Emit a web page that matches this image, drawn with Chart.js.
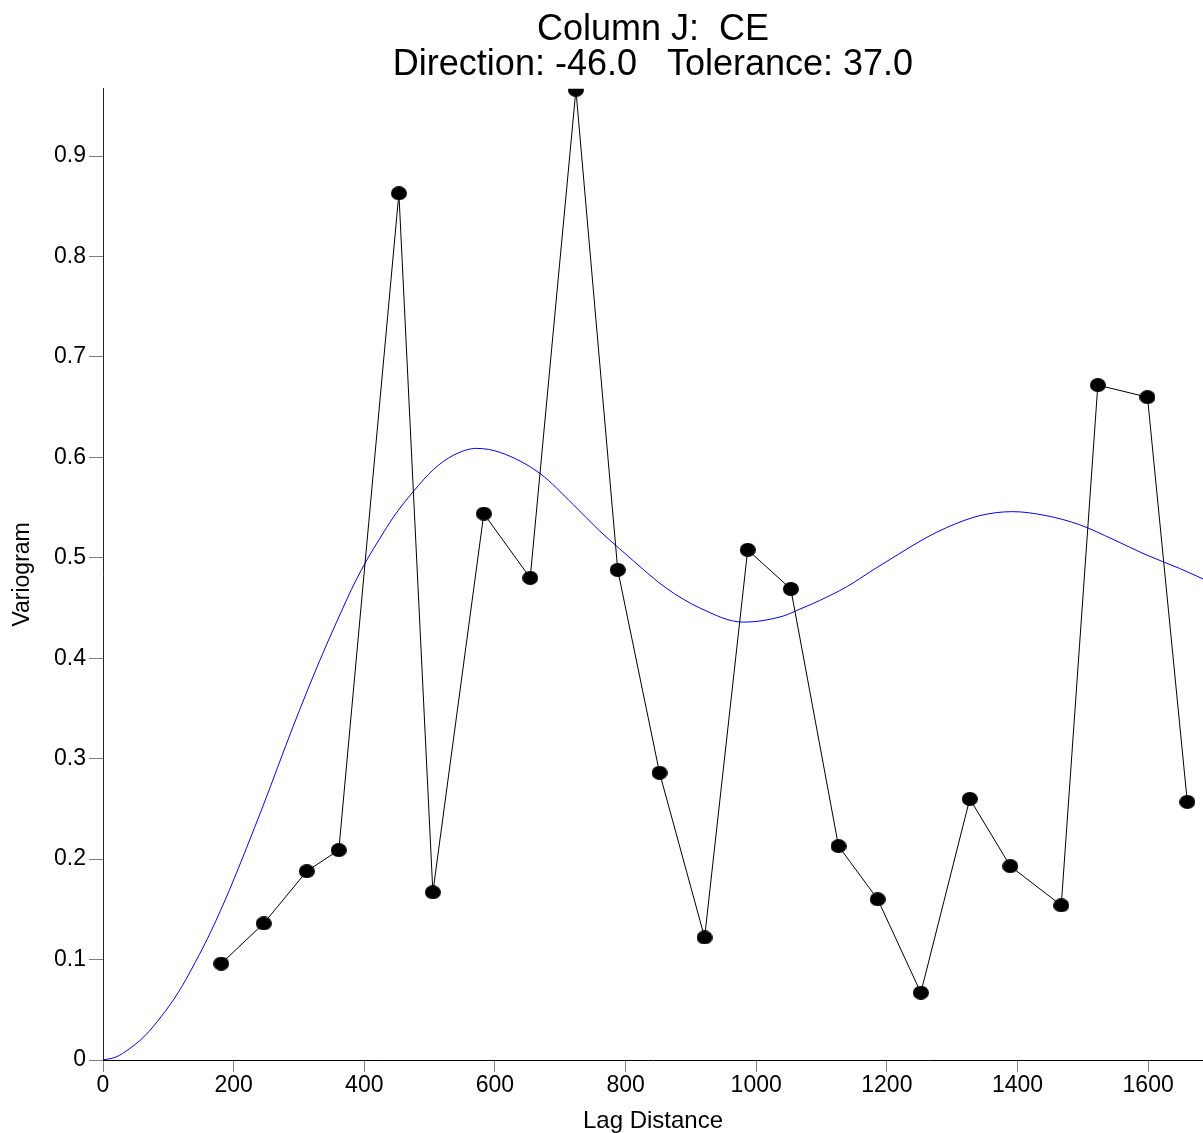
<!DOCTYPE html>
<html>
<head>
<meta charset="utf-8">
<script src="https://cdn.jsdelivr.net/npm/chart.js@4.4.1/dist/chart.umd.min.js"></script>
<style>
  html, body { margin: 0; padding: 0; background: #fff; }
  #wrap { width: 1203px; height: 1133px; }
</style>
</head>
<body>
<div id="wrap"><canvas id="c" width="1203" height="1133"></canvas></div>
<script>
// Experimental variogram: lag distance and semivariance per lag class
const lagDistance = [181, 246, 312, 361, 453, 505, 583, 654, 724, 788, 852, 921,
                     987, 1053, 1126, 1186, 1252, 1327, 1389, 1467, 1523, 1599, 1660];
const gammaValues = [0.096, 0.136, 0.188, 0.209, 0.863, 0.167, 0.544, 0.480, 0.966, 0.488, 0.286, 0.122,
                     0.508, 0.469, 0.213, 0.160, 0.067, 0.260, 0.193, 0.154, 0.672, 0.660, 0.257];

// Fitted model curve (hole-effect), sampled along the lag axis
const modelLag   = [0, 20, 40, 64, 90, 115, 141, 166, 194, 245, 291, 332, 375, 386, 404, 424, 444, 475,
                    506, 536, 572, 608, 669, 720, 760, 791, 812, 862, 914, 980, 1041, 1067, 1097, 1138,
                    1179, 1220, 1260, 1291, 1342, 1393, 1444, 1495, 1546, 1597, 1648, 1684];
const modelGamma = [0, 0.003, 0.011, 0.024, 0.044, 0.067, 0.097, 0.129, 0.170, 0.253, 0.332, 0.398, 0.461, 0.476, 0.498, 0.5195, 0.540, 0.566,
                    0.588, 0.602, 0.609, 0.605, 0.584, 0.553, 0.527, 0.509, 0.497, 0.470, 0.450, 0.436, 0.442, 0.449, 0.4575, 0.471,
                    0.488, 0.5045, 0.520, 0.530, 0.542, 0.546, 0.542, 0.533, 0.5185, 0.503, 0.4895, 0.479];

const titleLines = ['Column J:  CE', 'Direction: -46.0   Tolerance: 37.0'];
const xLabel = 'Lag Distance';
const yLabel = 'Variogram';
const xMax = 1684, xStep = 200;
const yMax = 0.967, yStep = 0.1;

const FONT = "'Liberation Sans', Arial, sans-serif";

// filled ellipse used as the marker for each lag
function dot(w, h) {
  const c = document.createElement('canvas');
  c.width = w; c.height = h;
  const g = c.getContext('2d');
  g.fillStyle = '#000';
  g.beginPath();
  g.ellipse(w / 2, h / 2, w / 2, h / 2, 0, 0, Math.PI * 2);
  g.fill();
  return c;
}
const marker = dot(16, 14);

new Chart(document.getElementById('c'), {
  type: 'scatter',
  data: {
    datasets: [
      {
        label: 'Model',
        data: modelLag.map((x, i) => ({ x, y: modelGamma[i] })),
        showLine: true,
        borderColor: '#0000ff',
        borderWidth: 1,
        pointRadius: 0,
        cubicInterpolationMode: 'monotone',
        fill: false,
        order: 2
      },
      {
        label: 'Experimental',
        data: lagDistance.map((x, i) => ({ x, y: gammaValues[i] })),
        showLine: true,
        borderColor: '#000',
        borderWidth: 1,
        tension: 0,
        pointStyle: marker,
        pointRadius: 8,
        fill: false,
        order: 1
      }
    ]
  },
  options: {
    responsive: false,
    devicePixelRatio: 1,
    animation: false,
    layout: { padding: 0, autoPadding: false },
    plugins: {
      legend: { display: false },
      tooltip: { enabled: false },
      title: {
        display: true,
        text: titleLines,
        fullSize: false,
        color: '#000',
        font: { family: FONT, size: 36, weight: 'normal', lineHeight: 0.97 },
        padding: { top: 13, bottom: 6 }
      }
    },
    scales: {
      x: {
        type: 'linear',
        min: 0,
        max: xMax,
        border: { color: '#000', width: 1 },
        grid: { drawOnChartArea: false, drawTicks: true, tickLength: 12, color: '#808080' },
        ticks: {
          stepSize: xStep,
          includeBounds: false,
          autoSkip: false,
          maxRotation: 0,
          padding: 0,
          color: '#000',
          font: { family: FONT, size: 23 },
          callback: v => String(Math.round(v))
        },
        title: {
          display: true,
          text: xLabel,
          color: '#000',
          font: { family: FONT, size: 24, lineHeight: 1 },
          padding: { top: 0, bottom: 0 }
        },
        afterFit(scale) {
          scale.height = 73;
          scale.paddingLeft = 0;
          scale.paddingRight = 0;
        }
      },
      y: {
        min: 0,
        max: yMax,
        border: { color: '#222', width: 1 },
        grid: { drawOnChartArea: false, drawTicks: true, tickLength: 14, color: '#808080' },
        ticks: {
          stepSize: yStep,
          includeBounds: false,
          padding: 3,
          color: '#000',
          font: { family: FONT, size: 23 },
          callback: v => (Math.abs(v) < 1e-9 ? '0' : v.toFixed(1))
        },
        title: {
          display: true,
          text: yLabel,
          color: '#000',
          font: { family: FONT, size: 23, lineHeight: 1 },
          padding: { top: 11, bottom: 0 }
        },
        afterFit(scale) {
          scale.width = 103;
          scale.paddingTop = 0;
          scale.paddingBottom = 0;
        }
      }
    }
  }
});
</script>
</body>
</html>
